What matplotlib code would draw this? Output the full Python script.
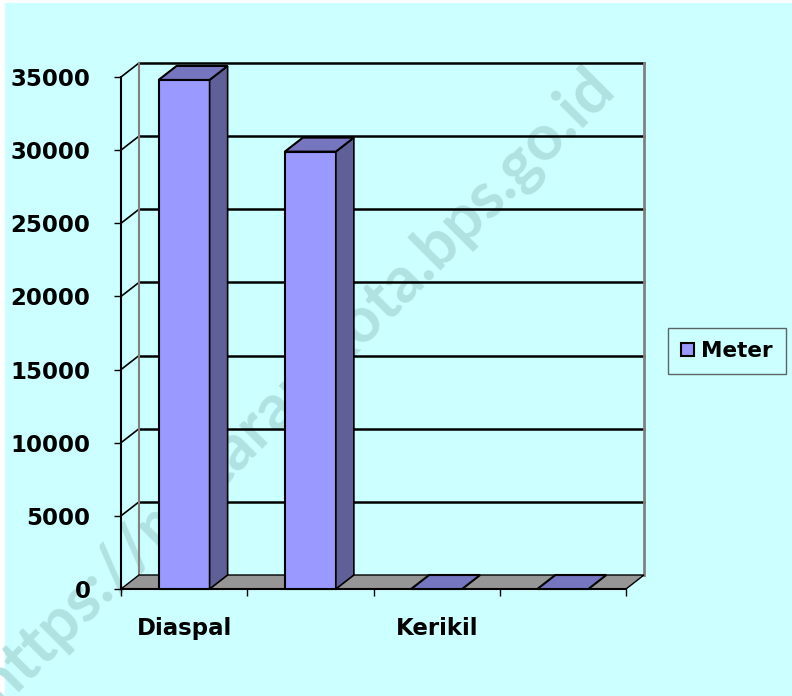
import matplotlib
matplotlib.use("Agg")
import matplotlib.pyplot as plt
import matplotlib.patches as mpatches

# data (2nd and 4th category labels are skipped in the original)
categories = ["Diaspal", "", "Kerikil", ""]
meter = [34800, 29900, 0, 0]
yticks = [0, 5000, 10000, 15000, 20000, 25000, 30000, 35000]
series_name = "Meter"

BG = "#CCFFFF"
FRONT = "#9999FF"
SIDE = "#606099"
TOP = "#7676C0"
FLOOR = "#969696"
FONT = "DejaVu Sans"

W, H = 792, 696
fig = plt.figure(figsize=(W / 100, H / 100), dpi=100)
fig.patch.set_facecolor("white")
fig.patches.append(mpatches.Rectangle((5 / W, 0), 1, 1 - 3 / H, transform=fig.transFigure,
                                      facecolor=BG, edgecolor="none", zorder=-2))

# watermark behind the chart (runs off the lower-left corner, as in the original)
fig.text(295 / W, 1 - 386 / H, "https://mataramkota.bps.go.id", rotation=45,
         rotation_mode="anchor", ha="center", va="center", fontsize=46,
         fontweight="bold", family="Lato", color="#B0E2E2", zorder=-1)

# axes = front plane of the 3D box
ax = fig.add_axes([121 / W, 107 / H, 505 / W, 512 / H])
ax.set_facecolor("none")
n = len(categories)
ax.set_xlim(0, n)
ax.set_ylim(0, yticks[-1])

# depth of the box in data units (18 px right, 14 px up)
dx = 18 / 505 * n
dy = 14 / 512 * yticks[-1]
top = yticks[-1]

def poly(pts, fc, ec="black", lw=1.0, z=2):
    ax.add_patch(mpatches.Polygon(pts, closed=True, facecolor=fc, edgecolor=ec,
                                  linewidth=lw, clip_on=False, zorder=z, joinstyle="miter"))

# walls: gridlines on left wall and back wall
for v in yticks[1:]:
    ax.plot([0, dx], [v, v + dy], color="black", lw=1.2, clip_on=False, zorder=1)
    ax.plot([dx, n + dx], [v + dy, v + dy], color="black", lw=1.8, clip_on=False, zorder=1)
ax.plot([dx, dx], [dy, top + dy], color="#808080", lw=1.5, clip_on=False, zorder=1)
ax.plot([n + dx, n + dx], [dy, top + dy], color="#808080", lw=2, clip_on=False, zorder=1)

# floor
poly([(0, 0), (n, 0), (n + dx, dy), (dx, dy)], FLOOR, lw=1.0, z=1.5)
ax.plot([0, n], [0, 0], color="black", lw=1.5, clip_on=False, zorder=1.6)

# bars
bw = 0.404
for i, v in enumerate(meter):
    x0 = i + 0.5 - bw / 2
    x1 = i + 0.5 + bw / 2
    if v > 0:
        poly([(x0, 0), (x1, 0), (x1, v), (x0, v)], FRONT, lw=1.5, z=3)
        poly([(x1, 0), (x1 + dx, dy), (x1 + dx, v + dy), (x1, v)], SIDE, lw=1.2, z=3)
    poly([(x0, v), (x1, v), (x1 + dx, v + dy), (x0 + dx, v + dy)], TOP, lw=1.5, z=3)

# axes, ticks, labels
for s in ["top", "right"]:
    ax.spines[s].set_visible(False)
ax.spines["left"].set_linewidth(1.5)
ax.spines["bottom"].set_visible(False)
ax.set_yticks(yticks)
ax.set_yticklabels([str(t) for t in yticks])
ax.set_xticks(range(n + 1))
ax.set_xticklabels([""] * (n + 1))
ax.set_xticks([i + 0.5 for i in range(n)], minor=True)
ax.set_xticklabels(categories, minor=True)
ax.tick_params(axis="y", direction="out", length=5, width=1, pad=17)
ax.tick_params(axis="x", which="major", direction="out", length=5, width=1)
ax.tick_params(axis="x", which="minor", length=0, pad=20)
for lab in ax.get_yticklabels() + ax.get_xticklabels(minor=True):
    lab.set_fontfamily(FONT)
    lab.set_fontweight("bold")
    lab.set_fontsize(16.5)

handle = mpatches.Patch(facecolor=FRONT, edgecolor="black", linewidth=1.5, label=series_name)
leg = fig.legend(handles=[handle], loc="center left", bbox_to_anchor=(668 / W, 1 - 351 / H),
                 borderaxespad=0, frameon=True, fancybox=False, edgecolor="#404040",
                 facecolor=BG, handlelength=0.6, handleheight=0.6, handletextpad=0.35,
                 borderpad=0.6, prop={"family": FONT, "weight": "bold", "size": 15.5})
leg.get_frame().set_linewidth(1)

fig.savefig("out.png", dpi=100)
